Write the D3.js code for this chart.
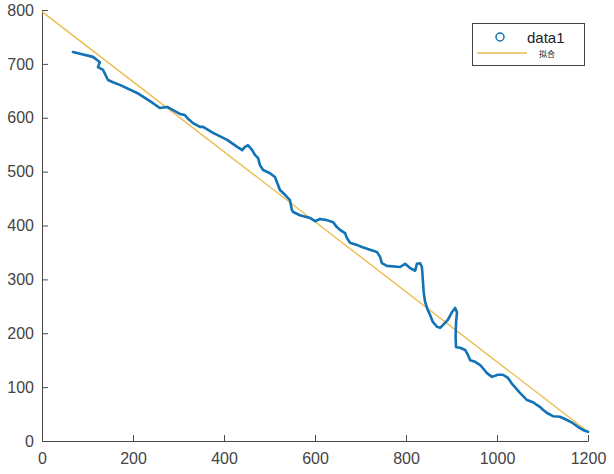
<!DOCTYPE html>
<html><head><meta charset="utf-8">
<script src="https://cdn.jsdelivr.net/npm/d3@7"></script>
<style>body{margin:0;background:#fff}svg{display:block}</style>
</head><body>
<script>
const xTicks = [0,200,400,600,800,1000,1200];
const yTicks = [0,100,200,300,400,500,600,700,800];
const dataX = [68,112,121,127,123,134,145,156,171,209,244,259,275,288,299,303,314,321,332,347,354,376,407,429,440,446,453,462,468,475,479,486,501,512,523,534,545,549,552,567,589,600,611,626,640,648,655,666,670,677,692,703,721,736,743,747,758,787,798,809,820,824,831,835,837,839,842,848,853,859,868,875,881,892,901,908,912,910,909,910,919,930,936,941,952,963,969,978,989,1002,1013,1024,1035,1051,1066,1079,1095,1101,1110,1123,1138,1154,1167,1182,1193,1200];
const dataY = [722,713,707,703,694,689,670,666,661,646,627,618,620,614,609,607,605,598,590,583,583,572,559,546,540,546,549,540,531,525,512,503,497,490,466,457,447,429,425,419,414,408,412,410,406,397,392,386,377,368,364,360,355,351,342,330,325,323,329,321,316,329,330,323,299,275,258,243,234,221,212,210,215,225,239,247,239,219,193,174,173,169,160,150,147,141,135,126,119,123,123,117,104,89,76,72,63,58,52,46,45,39,33,24,19,17];
const fitX = [0,1200];
const fitY = [797,17];
const legendLabels = ["data1","拟合"];

const W=614,H=474;
const svg=d3.select("body").append("svg").attr("width",W).attr("height",H);
svg.append("rect").attr("width",W).attr("height",H).attr("fill","#fff");
const x=d3.scaleLinear().domain([0,1200]).range([42,588]);
const y=d3.scaleLinear().domain([0,800]).range([441,10]);

const font="'Liberation Sans', Arial, Helvetica, sans-serif";
const axColor="#4a4a4a";

// axes
const gx=svg.append("g").attr("transform",`translate(0,${y(0)})`)
  .call(d3.axisBottom(x).tickValues(xTicks).tickSizeInner(-6).tickSizeOuter(0).tickPadding(12).tickFormat(d3.format("d")));
const gy=svg.append("g").attr("transform",`translate(${x(0)},0)`)
  .call(d3.axisLeft(y).tickValues(yTicks).tickSizeInner(-6).tickSizeOuter(0).tickPadding(8).tickFormat(d3.format("d")));
[gx,gy].forEach(g=>{
  g.select(".domain").attr("stroke",axColor);
  g.selectAll(".tick line").attr("stroke",axColor);
  g.selectAll(".tick text").attr("fill","#444").style("font-family",font).style("font-size","16px");
});

// fit line
const pts=dataX.map((d,i)=>[d,dataY[i]]);
const fitPts=fitX.map((d,i)=>[d,fitY[i]]);
const line=d3.line().x(d=>x(d[0])).y(d=>y(d[1]));
svg.append("path").datum(fitPts).attr("d",line).attr("fill","none").attr("stroke","#EDB94A").attr("stroke-width",1.3);
svg.append("path").datum(pts).attr("d",line).attr("fill","none").attr("stroke","#1272B6").attr("stroke-width",2.6).attr("stroke-linejoin","round").attr("stroke-linecap","round");

// legend
const lg=svg.append("g");
lg.append("rect").attr("x",472.5).attr("y",23.5).attr("width",112).attr("height",42).attr("fill","#fff").attr("stroke","#444").attr("stroke-width",1);
lg.append("circle").attr("cx",500).attr("cy",37).attr("r",4).attr("fill","none").attr("stroke","#1272B6").attr("stroke-width",1.5);
lg.append("text").attr("x",527).attr("y",43).text(legendLabels[0]).style("font-family",font).style("font-size","15px").attr("fill","#222");
lg.append("line").attr("x1",477).attr("x2",527).attr("y1",53).attr("y2",53).attr("stroke","#EDB94A").attr("stroke-width",1.3);
lg.append("text").attr("x",539).attr("y",57).text(legendLabels[1]).style("font-family","'Noto Sans CJK SC', sans-serif").style("font-size","8px").attr("fill","#222");
</script>
</body></html>
